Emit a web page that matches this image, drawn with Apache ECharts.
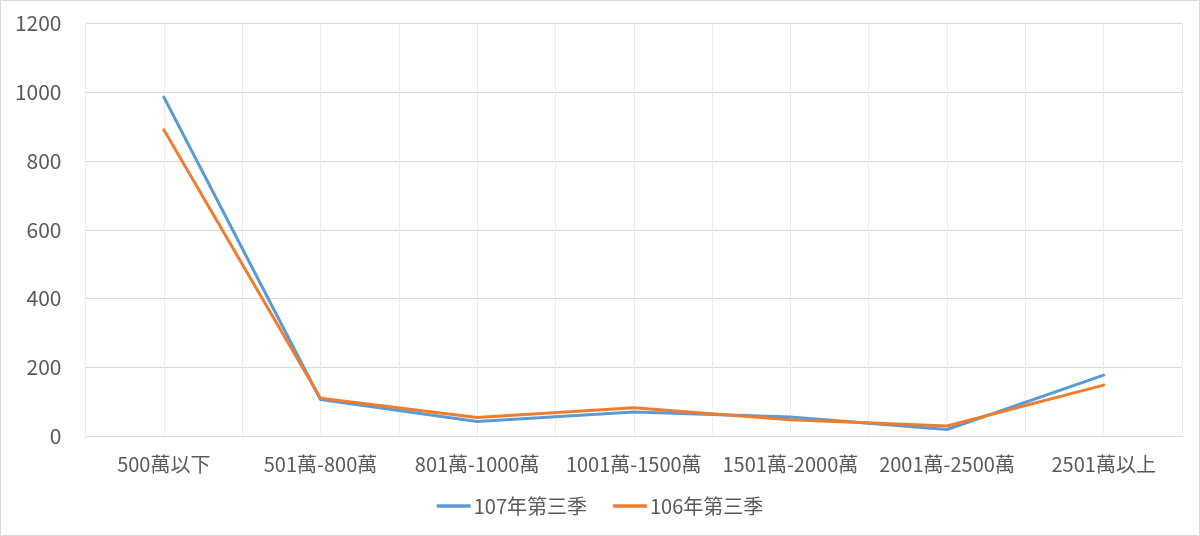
<!DOCTYPE html>
<html><head><meta charset="utf-8">
<script src="https://cdn.jsdelivr.net/npm/echarts@6/dist/echarts.min.js"></script>
<style>html,body{margin:0;padding:0;background:#fff}#c{width:1200px;height:536px}</style>
</head><body><div id="c"></div>
<script>
const categories = ['500萬以下','501萬-800萬','801萬-1000萬','1001萬-1500萬','1501萬-2000萬','2001萬-2500萬','2501萬以上'];
const seriesNames = ['107年第三季','106年第三季'];
const values107 = [986, 106, 42, 70, 55, 19, 177];
const values106 = [891, 110, 54, 82, 47, 29, 148];
const yTicks = {min: 0, max: 1200, interval: 200};

const font = '"Noto Sans CJK TC","Noto Sans",sans-serif';
const chart = echarts.init(document.getElementById('c'), null, {renderer: 'canvas'});
const halfCats = [];
categories.forEach(c => { halfCats.push(c + 'a'); halfCats.push(c + 'b'); });
chart.setOption({
  animation: false,
  textStyle: {fontFamily: font},
  graphic: [{type: 'rect', shape: {x: 0.5, y: 0.5, width: 1199, height: 535}, style: {fill: 'none', stroke: '#d9d9d9', lineWidth: 1}, silent: true}],
  grid: {left: 85.5, right: 18, top: 23.5, bottom: 100, containLabel: false},
  legend: {
    data: seriesNames.map(n => ({name: n, icon: 'roundRect'})), bottom: 15, left: 'center',
    itemWidth: 34, itemHeight: 3.5, itemGap: 26,
    textStyle: {fontSize: 20, color: '#595959', fontFamily: font, padding: [0, 0, 0, -2]}
  },
  xAxis: [{
    type: 'category', data: categories, boundaryGap: true,
    axisLine: {show: true, lineStyle: {color: '#d9d9d9', width: 1}},
    axisTick: {show: false},
    axisLabel: {fontSize: 20, color: '#595959', margin: 18, interval: 0, fontFamily: font},
    splitLine: {show: true, lineStyle: {color: '#ececec', width: 1}}
  }, {
    type: 'category', data: halfCats, boundaryGap: true, position: 'bottom',
    axisLine: {show: false}, axisTick: {show: false}, axisLabel: {show: false},
    splitLine: {show: true, interval: 0, lineStyle: {color: '#ececec', width: 1}}
  }],
  yAxis: {
    type: 'value', min: yTicks.min, max: yTicks.max, interval: yTicks.interval,
    axisLine: {show: false}, axisTick: {show: false},
    axisLabel: {fontSize: 21, color: '#595959', margin: 24, fontFamily: font, formatter: v => String(v)},
    splitLine: {show: true, lineStyle: {color: '#d9d9d9', width: 1}}
  },
  series: [
    {name: seriesNames[0], type: 'line', data: values107, symbol: 'none', xAxisIndex: 0,
     lineStyle: {color: '#5b9bd5', width: 3, cap: 'round', join: 'round'}, itemStyle: {color: '#5b9bd5'}},
    {name: seriesNames[1], type: 'line', data: values106, symbol: 'none', xAxisIndex: 0,
     lineStyle: {color: '#ed7d31', width: 3, cap: 'round', join: 'round'}, itemStyle: {color: '#ed7d31'}}
  ]
});
</script></body></html>
